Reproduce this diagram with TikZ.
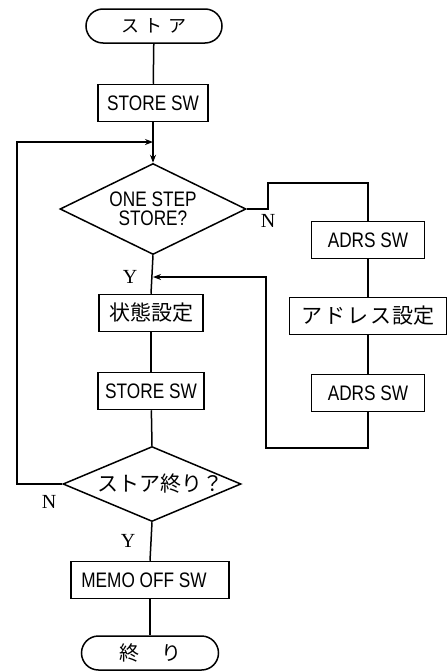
\documentclass[tikz,border=0pt]{standalone}
\usepackage{fontspec}
\setmainfont{Liberation Serif}
\newfontfamily\lat[FakeStretch=0.82]{Liberation Sans}
\newfontfamily\jp{Noto Sans CJK JP}
\usetikzlibrary{shapes.geometric,arrows.meta}
\tikzset{
  box/.style={draw, rectangle, inner sep=0pt, minimum height=37pt, font=\lat\fontsize{21}{21}\selectfont},
  jbox/.style={draw, rectangle, inner sep=0pt, minimum height=37pt, font=\jp\fontsize{21}{21}\selectfont},
  term/.style={draw, rectangle, rounded corners=17pt, inner sep=0pt, minimum height=34pt, font=\jp\fontsize{18}{18}\selectfont},
  dia/.style={draw, diamond, inner sep=0pt, aspect=2},
  yn/.style={font=\fontsize{20}{20}\selectfont, inner sep=0pt},
  arr/.style={-{Stealth[length=8pt,width=6pt]}},
}
\begin{document}
\begin{tikzpicture}[x=1pt,y=-1pt,line width=1.5pt]
\useasboundingbox (0,0) rectangle (447,672);
% main column
\node[term, minimum width=136pt] (start) at (154,26) {ス\hspace{6pt}ト\hspace{6pt}ア};
\node[box, minimum width=110pt] (sw1) at (153,103) {STORE SW};
\node[dia, minimum width=186pt, minimum height=91pt, align=center, font=\lat\fontsize{21}{19.5}\selectfont] (d1) at (153,209) {ONE STEP\\STORE?};
\node[jbox, minimum width=104pt] (state) at (151,313) {状態設定};
\node[box, minimum width=106pt] (sw2) at (151,391) {STORE SW};
\node[dia, minimum width=178pt, minimum height=75pt, font=\jp\fontsize{21}{21}\selectfont] (d2) at (152,484) {\makebox[0pt]{\hspace{16pt}ストア終り？}};
\node[box, minimum width=158pt] (memo) at (150,580) {\hspace{-12pt}MEMO OFF SW};
\node[term, minimum width=137pt, font=\jp\fontsize{20}{20}\selectfont] (end) at (150,653) {終\hspace{22pt}り};
% right column
\node[box, minimum width=113pt] (a1) at (368,240) {ADRS SW};
\node[jbox, minimum width=157pt] (addr) at (368,316) {ア\hspace{2pt}ド\hspace{2pt}レ\hspace{2pt}ス\hspace{1pt}設定};
\node[box, minimum width=113pt] (a2) at (368,393) {ADRS SW};
% labels
\node[yn] (n1) at (268,221) {N};
\node[yn] (y1) at (130,277) {Y};
\node[yn] (n2) at (49,502) {N};
\node[yn] (y2) at (128,541) {Y};
% coordinates
\coordinate (j1) at (153,142);
\coordinate (j2) at (153,277);
\coordinate (c1) at (268,209);
\coordinate (c2) at (368,183);
\coordinate (c3) at (368,448);
\coordinate (c4) at (266,277);
\coordinate (c5) at (17,142);
% connectors
\draw (start) -- (sw1);
\draw[arr] (sw1) -- (d1.north);
\draw (d1.south) -- (state.north);
\draw (state) -- (sw2);
\draw (sw2) -- (d2.north);
\draw (d2.south) -- (memo.north);
\draw (memo) -- (end);
\draw (d1.east) -- (c1) |- (c2) -- (a1.north);
\draw (a1) -- (addr);
\draw (addr) -- (a2);
\draw[arr] (a2.south) -- (c3) -| (c4) -- (j2);
\draw[arr] (d2.west) -| (c5) -- (j1);
\end{tikzpicture}
\end{document}
